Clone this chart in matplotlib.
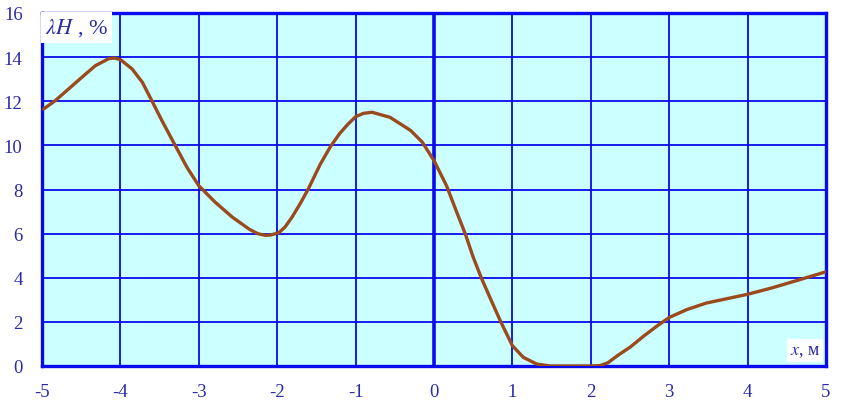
import numpy as np
import matplotlib
matplotlib.use('Agg')
import matplotlib.pyplot as plt

# values
x = [-4.98, -4.83, -4.66, -4.49, -4.32, -4.15, -4.08, -4.0, -3.85, -3.72, -3.6, -3.47, -3.3,
     -3.15, -3.0, -2.79, -2.57, -2.36, -2.25, -2.15, -2.08, -1.98, -1.9, -1.81, -1.7, -1.6,
     -1.45, -1.32, -1.2, -1.1, -1.0, -0.9, -0.79, -0.56, -0.3, -0.15, 0.0, 0.16, 0.29, 0.4,
     0.5, 0.61, 0.74, 0.86, 1.0, 1.14, 1.31, 1.48, 2.0, 2.12, 2.22, 2.34, 2.5, 2.68, 2.84,
     3.0, 3.22, 3.47, 4.0, 4.32, 4.68, 5.0]
lam_h = [11.65, 12.03, 12.56, 13.09, 13.61, 13.93, 13.96, 13.89, 13.46, 12.86, 12.03, 11.12, 9.99,
         9.0, 8.17, 7.42, 6.74, 6.21, 6.0, 5.92, 5.94, 6.04, 6.3, 6.75, 7.4, 8.05,
         9.15, 9.95, 10.55, 10.95, 11.3, 11.45, 11.5, 11.27, 10.68, 10.15, 9.31, 8.17, 6.97, 5.98,
         4.93, 3.94, 2.89, 1.94, 0.92, 0.39, 0.09, 0.0, 0.0, 0.02, 0.15, 0.47, 0.85, 1.37, 1.8,
         2.2, 2.55, 2.85, 3.25, 3.55, 3.93, 4.27]

xticks = [-5, -4, -3, -2, -1, 0, 1, 2, 3, 4, 5]
yticks = [0, 2, 4, 6, 8, 10, 12, 14, 16]

plt.rcParams['font.family'] = ['Liberation Serif', 'DejaVu Serif']
plt.rcParams['mathtext.fontset'] = 'stix'

blue = '#0a0aee'
label_col = '#2a2aa8'

fig = plt.figure(figsize=(8.41, 4.06), dpi=100)
ax = fig.add_axes([42/841, 39/406, 784/841, 353/406])
ax.set_facecolor('#ccffff')

ax.set_xlim(-5, 5)
ax.set_ylim(0, 16)
ax.set_xticks(xticks)
ax.set_yticks(yticks)
ax.set_xticklabels([str(t) for t in xticks])
ax.set_yticklabels([str(t) for t in yticks])
ax.tick_params(length=0, labelsize=13.5, labelcolor=label_col)
ax.tick_params(axis='x', pad=12)
ax.tick_params(axis='y', pad=14)

ax.grid(True, color=blue, linewidth=1.3)
ax.axvline(0, color=blue, linewidth=2.6, zorder=1.5)
for s in ax.spines.values():
    s.set_color(blue)
    s.set_linewidth(2.4)

ax.plot(x, lam_h, color='#9a4a1c', linewidth=2.4, solid_capstyle='round',
        solid_joinstyle='round', zorder=3)

ax.text(0.004, 0.99, r'$\lambda H$ , %', transform=ax.transAxes, ha='left', va='top',
        fontsize=16, color=label_col, zorder=4,
        bbox=dict(facecolor='white', edgecolor='none', pad=3))
ax.text(0.993, 0.02, r'$x$, м', transform=ax.transAxes, ha='right', va='bottom',
        fontsize=13, color=label_col, zorder=4,
        bbox=dict(facecolor='white', edgecolor='none', pad=2))

fig.savefig('out.png', dpi=100, facecolor='white')
